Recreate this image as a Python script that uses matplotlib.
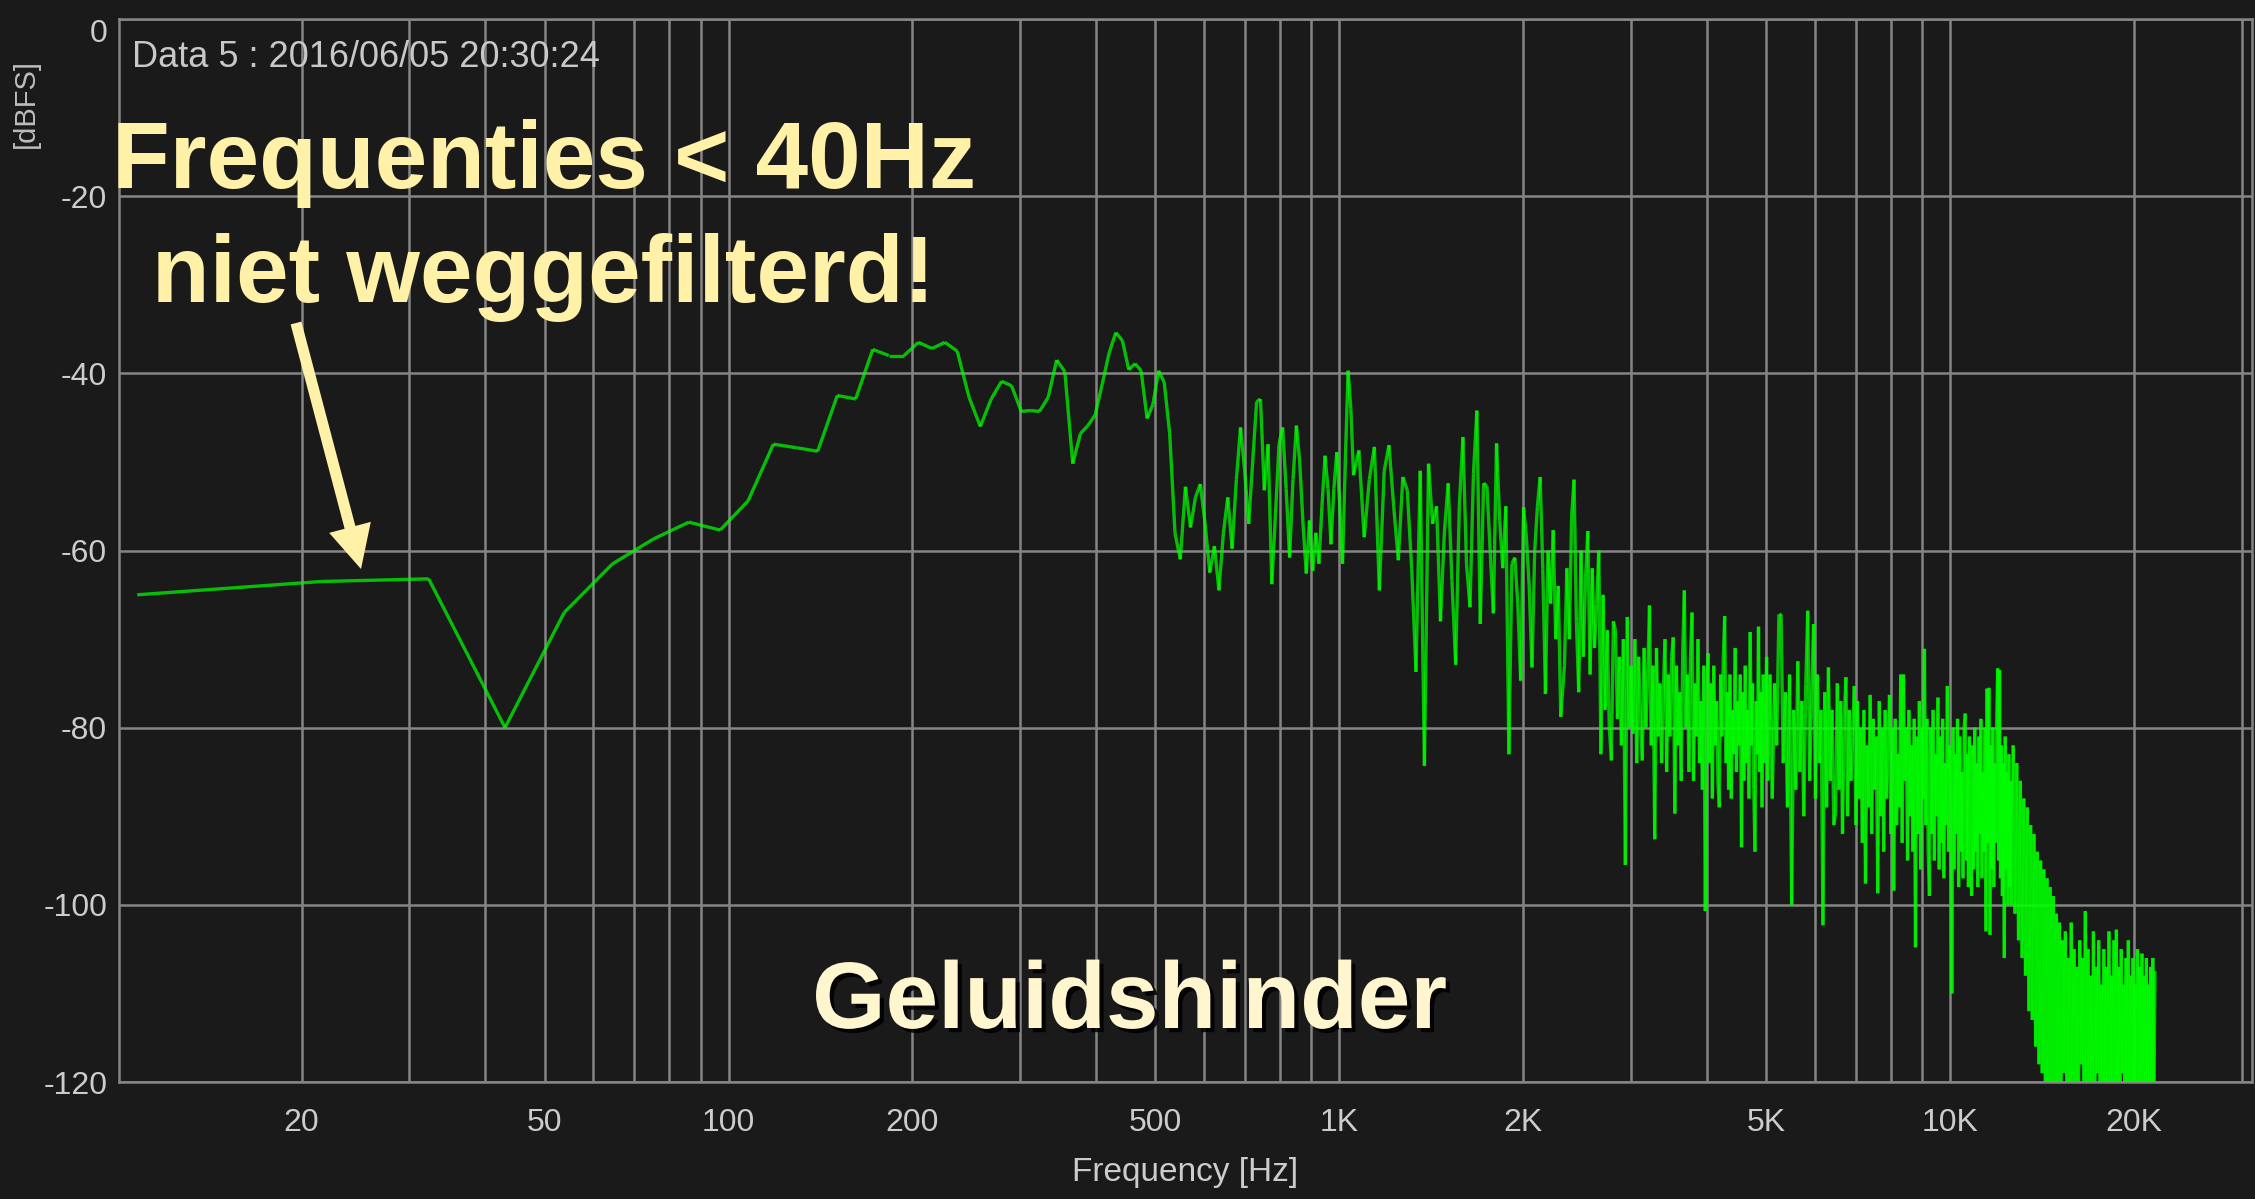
import numpy as np
import matplotlib
matplotlib.use('Agg')
import matplotlib.pyplot as plt
import matplotlib.patheffects as pe
from matplotlib.collections import LineCollection
from matplotlib.ticker import NullFormatter

plt.rcParams['font.family'] = ['Liberation Sans', 'DejaVu Sans']

# FFT bin width (44.1 kHz, 4096 points)
BIN_HZ = 44100 / 4096

# spectrum in dBFS
# bins 1..54
low_db = [-65.0, -63.5, -63.2, -80.0, -67.0, -61.5, -58.7, -56.8, -57.7, -54.4,
          -48.0, -48.4, -48.8, -42.5, -42.9, -37.3, -38.0, -38.0, -36.5, -37.2,
          -36.5, -37.5, -42.7, -46.0, -42.9, -40.9, -41.4, -44.3, -44.2, -44.3,
          -42.7, -38.5, -39.8, -50.2, -46.8, -45.9, -44.7, -41.2, -37.7, -35.4,
          -36.3, -39.6, -38.9, -39.7, -45.1, -43.5, -39.7, -41.0, -46.8, -58.1,
          -61.0, -52.8, -57.4, -54.0]
# bins 55..100
mid_db = [-52.5, -57.0, -62.5, -59.5, -64.5, -58.0, -54.0, -59.8, -52.0, -46.1,
          -51.0, -57.0, -50.0, -43.2, -42.9, -53.2, -48.0, -63.8, -56.0, -48.0,
          -46.1, -53.0, -60.8, -52.0, -45.9, -50.0, -57.0, -62.6, -56.6, -62.3,
          -58.0, -61.5, -55.0, -49.3, -53.0, -59.3, -53.0, -48.9, -54.7, -61.5,
          -50.0, -39.7, -44.0, -51.5, -50.0, -48.7]
# bins 102..214, every 2nd bin
mid2_db = [-58.5, -52.0, -48.3, -64.5, -51.0, -48.1, -55.0, -61.1, -51.7, -53.2,
           -62.0, -73.7, -51.0, -84.3, -50.2, -57.0, -55.0, -68.0, -58.0, -52.4,
           -63.4, -72.9, -55.0, -47.2, -61.5, -66.4, -51.3, -44.2, -68.3, -52.4,
           -52.7, -60.0, -67.1, -47.9, -56.6, -62.0, -55.0, -83.0, -61.5, -60.8,
           -66.0, -74.7, -55.1, -58.5, -64.0, -73.2, -60.0, -55.0, -51.7, -62.0,
           -76.2, -60.0, -66.0, -57.7, -70.0, -64.0, -78.8]
# bins 217..465, every 2nd bin (2.3 - 5 kHz)
band1_db = [-73, -62, -70, -56, -52, -68, -76, -60, -72, -63,
            -57.8, -74, -62, -71, -66, -60, -83, -65, -78, -69,
            -80, -83.7, -68, -69, -79, -72, -82, -70, -95.5, -67.5,
            -80, -73, -80.7, -70, -84, -72, -79, -83.7, -71, -80,
            -74, -66.2, -82, -73, -92.6, -71, -81, -75, -84, -76,
            -70, -85, -74, -81, -72, -69.8, -89.7, -73, -82, -76,
            -86, -71, -64.5, -80, -74, -85, -72, -67, -86, -75,
            -81, -70, -84, -77, -87, -73, -100.7, -76, -71.6, -84,
            -75, -88, -73, -82, -77, -86, -89, -74, -81, -72,
            -67.4, -84, -76, -87, -74, -88, -78, -83, -71, -85,
            -77, -82, -74, -93.5, -76, -86, -73, -84, -78, -88,
            -69.2, -82, -75, -87, -94, -77, -83, -68.6, -85, -76,
            -89, -74, -84, -79, -72]
# bins 467..1167, every 4th bin (5 - 12.5 kHz)
band2_db = [-86, -74, -88, -75, -82, -67.2, -67.2, -84, -76, -89,
            -74, -100, -78, -87, -72.5, -85, -77, -90, -75, -66.8,
            -86, -76, -68.3, -88, -74, -84, -78, -102.3, -76, -89,
            -73.2, -86, -78, -91, -89.7, -75, -87, -77, -92, -79,
            -74.3, -90, -78, -86, -81, -75.3, -91, -77, -88, -80,
            -93, -78, -97.6, -82, -89, -76.3, -92, -79, -87, -81,
            -98.7, -77, -90, -80, -94, -78, -88, -82, -76.3, -92,
            -80, -98.4, -79, -91, -83, -89, -74, -93, -74, -86,
            -80, -95, -78, -90, -82, -94, -79, -104.8, -81, -92,
            -77, -96, -80, -88, -71.1, -91, -79, -94, -99, -80,
            -92, -78, -95, -83, -90, -76.6, -96, -81, -93, -79,
            -97, -84, -91, -75.3, -94, -82, -89, -110, -80, -96,
            -83, -92, -79, -98, -81, -94, -85, -97, -80, -78.4,
            -95, -83, -98, -81, -93, -99, -82, -96, -80, -94,
            -84, -98, -81, -92, -79, -97, -85, -94, -80, -103,
            -75.6, -93, -75.5, -103.4, -82, -96, -80, -98, -84, -93,
            -79, -73.3, -95, -73.5, -97, -82, -99, -84, -106, -81,
            -96, -85, -100, -83, -98, -86]
# bins 1170..2010, every 8th bin (12.6 - 21.6 kHz)
band3_db = [-100, -82, -101, -84, -104, -86, -106, -88, -108, -89,
            -112, -91, -113, -92, -116, -94, -118, -95, -119, -96,
            -121, -97, -120, -98, -122, -99, -123, -101, -121, -102,
            -123, -104, -119, -103, -122, -106, -123, -102, -120, -105,
            -122, -107, -123, -104, -118, -106, -122, -100.7, -123, -105,
            -120, -108, -122, -103, -123, -107, -119, -104, -122, -109,
            -123, -105, -121, -107, -123, -103, -120, -108, -122, -104,
            -123, -102.8, -121, -107, -123, -105, -119, -109, -122, -106,
            -123, -104, -120, -108, -122, -106, -123, -109, -121, -105,
            -123, -107, -120, -105.5, -122, -108, -123, -106, -121, -109,
            -123, -107, -122, -106, -123, -107.5]

# (first bin, bin step, values)
segments = [(1, 1, low_db), (55, 1, mid_db), (102, 2, mid2_db),
            (217, 2, band1_db), (467, 4, band2_db), (1170, 8, band3_db)]

x_major = [20, 50, 100, 200, 500, 1000, 2000, 5000, 10000, 20000]
x_labels = ['20', '50', '100', '200', '500', '1K', '2K', '5K', '10K', '20K']
y_ticks = [-120, -100, -80, -60, -40, -20, 0]
y_labels = ['-120', '-100', '-80', '-60', '-40', '-20', '0']

BG = '#1a1a1a'
GRID = '#858585'
TXT = '#cccccc'
ANN = '#fff1a8'
ANN2 = '#fff6cf'

W, H = 2255, 1199
fig = plt.figure(figsize=(W / 100, H / 100), dpi=100, facecolor=BG)
ax = fig.add_axes([119 / W, 117 / H, 2133 / W, 1063 / H], facecolor=BG)
ax.set_xscale('log')
ax.set_xlim(10.05, 31200)
ax.set_ylim(-120, 0)

freq = np.concatenate([(s + st * np.arange(len(v))) * BIN_HZ for s, st, v in segments])
db = np.concatenate([np.asarray(v, float) for s, st, v in segments])
pts = np.column_stack([freq, db])
segs = np.stack([pts[:-1], pts[1:]], axis=1)
lc = LineCollection(segs, colors='#00ff00', linewidths=2.4, alpha=0.72,
                    capstyle='butt', zorder=3)
ax.add_collection(lc)

# grid at every 1..9 x decade
x_minor = [m * 10 ** d for d in range(1, 5) for m in range(1, 10)]
x_minor = [v for v in x_minor if 10.05 < v < 31200 and v not in x_major]
ax.set_xticks(x_major)
ax.set_xticklabels(x_labels)
ax.set_xticks(x_minor, minor=True)
ax.xaxis.set_minor_formatter(NullFormatter())
ax.set_yticks(y_ticks)
ax.set_yticklabels(y_labels)
ax.grid(True, which='both', axis='x', color=GRID, lw=1.8, zorder=1)
ax.grid(True, which='major', axis='y', color=GRID, lw=1.8, zorder=1)
ax.set_axisbelow(True)
ax.tick_params(which='both', length=0)
ax.tick_params(axis='x', pad=19, labelsize=23, labelcolor=TXT)
ax.tick_params(axis='y', pad=8.5, labelsize=23, labelcolor=TXT)
ax.get_yticklabels()[-1].set_va('top')
for s in ax.spines.values():
    s.set_color(GRID)
    s.set_linewidth(1.8)

fig.text(132 / W, 1 - 67 / H, 'Data 5 : 2016/06/05 20:30:24', ha='left',
         va='baseline', fontsize=26, color='#c8c8c8')
fig.text(26 / W, 1 - 104 / H, '[dBFS]', rotation=90, ha='center', va='center',
         fontsize=21, color='#bdbdbd')
fig.text(1185.5 / W, 1 - 1172 / H, 'Frequency [Hz]', ha='center', va='center',
         fontsize=24, color=TXT)

# annotations
fig.text(544 / W, 1 - 188 / H, 'Frequenties < 40Hz', ha='center', va='baseline',
         fontsize=68, fontweight='bold', color=ANN)
fig.text(543 / W, 1 - 302 / H, 'niet weggefilterd!', ha='center', va='baseline',
         fontsize=68, fontweight='bold', color=ANN)
fig.text(1130 / W, 1 - 1028 / H, 'Geluidshinder', ha='center', va='baseline',
         fontsize=68, fontweight='bold', color=ANN2,
         path_effects=[pe.SimplePatchShadow(offset=(3, -3), shadow_rgbFace='black', alpha=0.85),
                       pe.Normal()])
ax.annotate('', xy=(361, H - 569), xycoords='figure pixels',
            xytext=(296, H - 323), textcoords='figure pixels',
            arrowprops=dict(arrowstyle='simple,head_length=31,head_width=31,tail_width=8',
                            mutation_scale=1, fc=ANN, ec='none', shrinkA=0, shrinkB=0))

fig.savefig('out.png', dpi=100, facecolor=BG)
